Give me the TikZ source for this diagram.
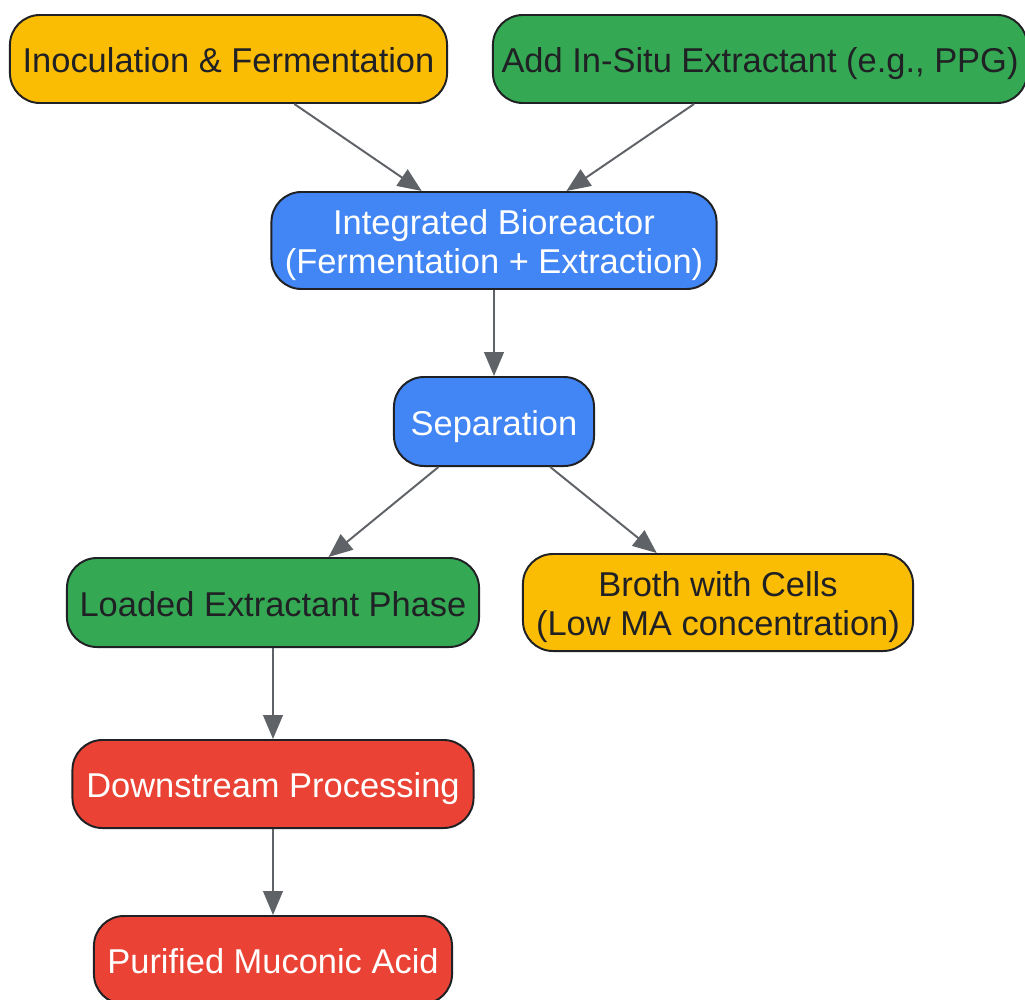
\documentclass[tikz,border=0pt]{standalone}
\usepackage{fontspec}
\setmainfont{Liberation Sans}
\usepackage{tikz}
\usetikzlibrary{arrows.meta,backgrounds,calc}
\definecolor{gyellow}{HTML}{FBBC04}
\definecolor{ggreen}{HTML}{34A853}
\definecolor{gblue}{HTML}{4285F4}
\definecolor{gred}{HTML}{EA4335}
\definecolor{gdark}{HTML}{202124}
\definecolor{garrow}{HTML}{5F6368}
% same height and depth for every text line
\newcommand{\lnbox}[1]{\raisebox{0pt}[0.96em][0.16em]{#1}}

\begin{document}
\begin{tikzpicture}[x=0.025cm,y=-0.025cm,
  box/.style={draw=gdark,line width=1.4pt,rounded corners=0.75cm,align=center,
    inner sep=0pt,font=\fontsize{24.5}{27.7}\selectfont},
  darktext/.style={box,text=gdark},
  lighttext/.style={box,text=white},
  flow/.style={draw=garrow,line width=1.4pt,-{Triangle[length=17pt,width=14pt]}}]
\useasboundingbox (0,0) rectangle (1025,999);
% top row
\node[darktext,fill=gyellow,minimum width=10.925cm,minimum height=2.2cm] (inoc) at (228.5,59) {\lnbox{Inoculation \& Fermentation}};
\node[darktext,fill=ggreen,minimum width=13.35cm,minimum height=2.2cm] (extr) at (760,59) {\lnbox{Add In-Situ Extractant (e.g., PPG)}};
% reactor and split
\node[lighttext,fill=gblue,minimum width=11.125cm,minimum height=2.425cm] (bioreactor) at (494,240.5) {\lnbox{Integrated Bioreactor}\\\lnbox{(Fermentation + Extraction)}};
\node[lighttext,fill=gblue,minimum width=5cm,minimum height=2.225cm] (sep) at (494,421.5) {\lnbox{Separation}};
\node[darktext,fill=ggreen,minimum width=10.3cm,minimum height=2.225cm] (loaded) at (273,602.5) {\lnbox{Loaded Extractant Phase}};
\node[darktext,fill=gyellow,minimum width=9.75cm,minimum height=2.425cm] (broth) at (718,602.5) {\lnbox{Broth with Cells}\\\lnbox{(Low MA concentration)}};
% downstream
\node[lighttext,fill=gred,minimum width=10.025cm,minimum height=2.2cm] (dsp) at (273,784) {\lnbox{Downstream Processing}};
\node[lighttext,fill=gred,minimum width=8.95cm,minimum height=2.2cm] (product) at (273,960) {\lnbox{Purified Muconic Acid}};

\draw[flow] (inoc) -- (bioreactor);
\draw[flow] (extr) -- (bioreactor);
\draw[flow] (bioreactor) -- (sep);
\draw[flow] (sep) -- (loaded);
\draw[flow] (sep) -- (broth);
\draw[flow] (loaded) -- (dsp);
\draw[flow] (dsp) -- (product);
\end{tikzpicture}
\end{document}
